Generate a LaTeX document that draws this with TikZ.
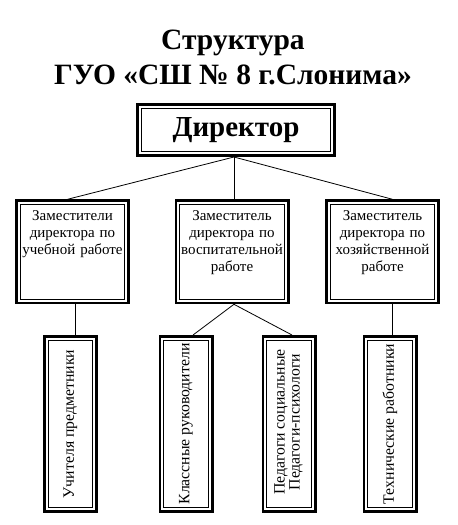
\documentclass[tikz,border=0pt]{standalone}
\usepackage{fontspec}
\usepackage{graphicx}
\setmainfont{Liberation Serif}
\usetikzlibrary{calc}

\begin{document}
\begin{tikzpicture}[x=1pt,y=-1pt,
                    frame/.style={draw,line width=2.6pt,inner sep=0pt,
                                  path picture={\draw[line width=1pt]
                                    ([shift={(4pt,-4pt)}]path picture bounding box.north west) rectangle
                                    ([shift={(-4pt,4pt)}]path picture bounding box.south east);}},
                    head/.style={frame,minimum width=197pt,minimum height=51.4pt,
                                 font=\fontsize{29}{32}\selectfont\bfseries},
                    deputy/.style={frame,text width=108pt,align=center,inner xsep=2.2pt,inner ysep=6pt,
                                   text height=13.4pt,text depth=77pt,font=\fontsize{15}{17}\selectfont},
                    staff/.style={frame,minimum width=52.4pt,minimum height=175.4pt,
                                  font=\fontsize{15.75}{15}\selectfont},
                    link/.style={line width=0.8pt}]
      \useasboundingbox (0,0) rectangle (458,525);

      \node[align=center,font=\fontsize{29.5}{35}\selectfont\bfseries] (title) at (233,57)
        {Структура\\ГУО «СШ № 8 г.Слонима»};

      \node[head] (director) at (236,130) {Директор};

      \node[deputy,anchor=north] (study) at (72.5,199.3)
        {Заместители\\директора по\\учебной работе};
      \node[deputy,anchor=north] (education) at (232,199.3)
        {Заместитель\\директора по\\воспитательной\\работе};
      \node[deputy,anchor=north] (household) at (382.5,199.3)
        {Заместитель\\директора по\\хозяйственной\\работе};

      \node[staff] (teachers) at (70.5,424) {\rotatebox{90}{Учителя предметники}};
      \node[staff] (classes) at (186,424) {\rotatebox{90}{Классные руководители}};
      \node[staff] (pedagogues) at (289,424) {\rotatebox{90}{
        \begin{tabular}{c}
          Педагоги социальные \\
          Педагоги-психологи
        \end{tabular}}};
      \node[staff] (technical) at (390,424) {\rotatebox{90}{Технические работники}};

      \draw[link] ([xshift=-2pt]director.south) -- ([xshift=-5pt]study.north);
      \draw[link] ([xshift=-2pt]director.south) -- ([xshift=2pt]education.north);
      \draw[link] ([xshift=-2pt]director.south) -- ([xshift=10pt]household.north);

      \draw[link] ([xshift=2.5pt]study.south) -- ([xshift=2.5pt]study.south |- teachers.north);
      \draw[link] ([xshift=2pt]education.south) -- ([xshift=7pt]classes.north);
      \draw[link] ([xshift=2pt]education.south) -- ([xshift=3pt]pedagogues.north);
      \draw[link] ([xshift=10pt]household.south) -- ([xshift=10pt]household.south |- technical.north);
    \end{tikzpicture}
\end{document}
